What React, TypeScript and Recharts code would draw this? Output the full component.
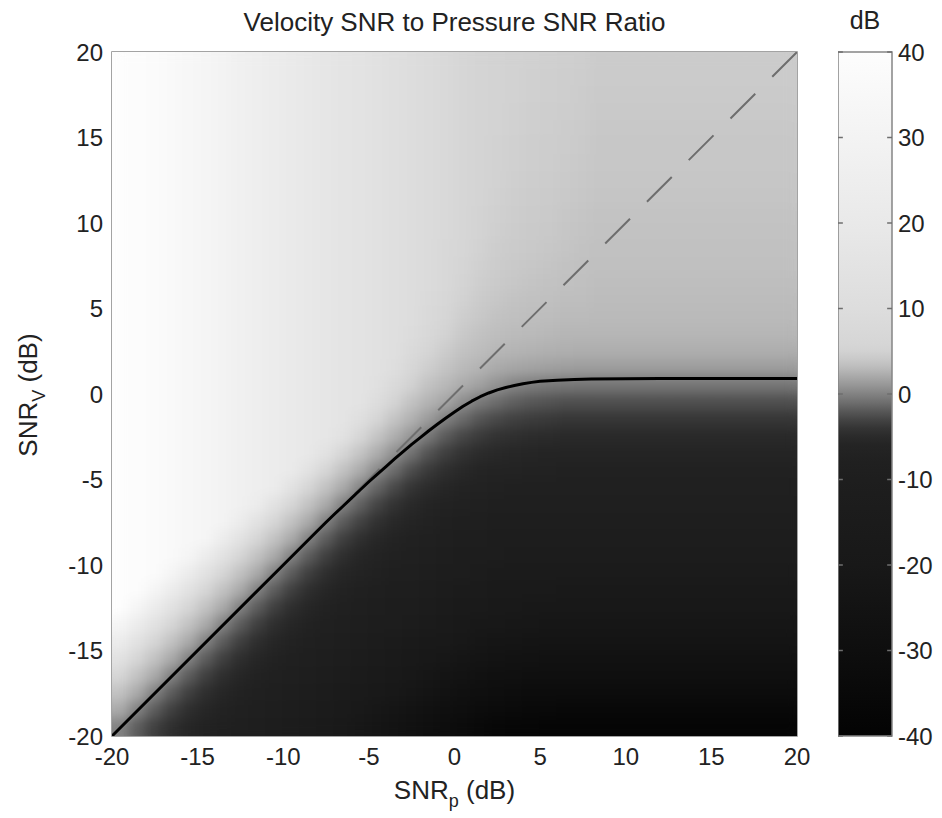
import React from 'react';
import { ComposedChart, Scatter, XAxis, YAxis, ReferenceArea, ReferenceLine } from 'recharts';

// ---- grid of cell centres (dB) ----
const snrPCenters = [-19.5,-18.5,-17.5,-16.5,-15.5,-14.5,-13.5,-12.5,-11.5,-10.5,-9.5,-8.5,-7.5,-6.5,-5.5,-4.5,-3.5,-2.5,-1.5,-0.5,0.5,1.5,2.5,3.5,4.5,5.5,6.5,7.5,8.5,9.5,10.5,11.5,12.5,13.5,14.5,15.5,16.5,17.5,18.5,19.5];
const snrVCenters = [19.5,18.5,17.5,16.5,15.5,14.5,13.5,12.5,11.5,10.5,9.5,8.5,7.5,6.5,5.5,4.5,3.5,2.5,1.5,0.5,-0.5,-1.5,-2.5,-3.5,-4.5,-5.5,-6.5,-7.5,-8.5,-9.5,-10.5,-11.5,-12.5,-13.5,-14.5,-15.5,-16.5,-17.5,-18.5,-19.5];

// ---- ratio values (dB), one row per SNR_V centre, columns follow snrPCenters ----
const row_v19_5 = [40,39,38,36,33.5,31.5,29.5,27,25,23,21,19.5,17.5,16,14.8,13.5,12,10,8.8,7.5,6.2,5.6,5.2,5,4.85,4.75,4.65,4.55,4.3,4.3,4.3,4.3,4.3,4.3,4.3,4.3,4.3,4.3,4.3,4.3];
const row_v18_5 = [40,39,38,36,33.5,31.5,29.5,27,25,23,21,19.5,17.5,16,14.8,13.5,12,10,8.8,7.5,6.2,5.6,5.2,5,4.8,4.7,4.6,4.5,4.25,4.25,4.25,4.25,4.25,4.25,4.25,4.25,4.25,4.25,4.25,4.25];
const row_v17_5 = [40,39,38,36,33.5,31.5,29.5,27,25,23,21,19.5,17.5,16,14.8,13.5,12,10,8.8,7.5,6.2,5.6,5.2,4.95,4.75,4.65,4.55,4.4,4.15,4.15,4.15,4.15,4.15,4.15,4.15,4.15,4.15,4.15,4.15,4.15];
const row_v16_5 = [40,39,38,36,33.5,31.5,29.5,27,25,23,21,19.5,17.5,16,14.8,13.5,12,10,8.8,7.5,6.2,5.6,5.2,4.9,4.7,4.6,4.5,4.35,4.1,4.1,4.1,4.1,4.1,4.1,4.1,4.1,4.1,4.1,4.1,4.1];
const row_v15_5 = [40,39,38,36,33.5,31.5,29.5,27,25,23,21,19.5,17.5,16,14.8,13.5,12,10,8.8,7.5,6.2,5.6,5.15,4.85,4.65,4.55,4.4,4.3,4,4,4,4,4,4,4,4,4,4,4,4];
const row_v14_5 = [40,39,38,36,33.5,31.5,29.5,27,25,23,21,19.5,17.5,16,14.8,13.5,12,10,8.8,7.5,6.2,5.6,5.1,4.8,4.6,4.5,4.35,4.2,3.95,3.95,3.95,3.95,3.95,3.95,3.95,3.95,3.95,3.95,3.95,3.95];
const row_v13_5 = [40,39,38,36,33.5,31.5,29.5,27,25,23,21,19.5,17.5,16,14.8,13.5,12,10,8.8,7.5,6.2,5.6,5.05,4.75,4.55,4.45,4.25,4.1,3.9,3.9,3.9,3.9,3.9,3.9,3.9,3.9,3.9,3.9,3.9,3.9];
const row_v12_5 = [40,39,38,36,33.5,31.5,29.5,27,25,23,21,19.5,17.5,16,14.8,13.5,12,10,8.8,7.5,6.2,5.5,5,4.7,4.5,4.35,4.15,4,3.85,3.85,3.85,3.85,3.85,3.85,3.85,3.85,3.85,3.85,3.85,3.85];
const row_v11_5 = [40,39,38,36,33.5,31.5,29.5,27,25,23,21,19.5,17.5,16,14.8,13.5,12,10,8.8,7.5,6.2,5.4,4.9,4.6,4.4,4.25,4.05,3.9,3.75,3.75,3.75,3.75,3.75,3.75,3.75,3.75,3.75,3.75,3.75,3.75];
const row_v10_5 = [40,39,38,36,33.5,31.5,29.5,27,25,23,21,19.5,17.5,16,14.8,13.5,12,10,8.8,7.5,6.1,5.3,4.8,4.5,4.3,4.15,3.95,3.8,3.65,3.65,3.65,3.65,3.65,3.65,3.65,3.65,3.65,3.65,3.65,3.65];
const row_v9_5 = [40,39,38,36,33.5,31.5,29.5,27,25,23,21,19.5,17.5,16,14.8,13.5,12,10,8.8,7.5,6,5.15,4.65,4.4,4.2,4.05,3.85,3.7,3.6,3.6,3.6,3.6,3.6,3.6,3.6,3.6,3.6,3.6,3.6,3.6];
const row_v8_5 = [40,39,38,36,33.5,31.5,29.5,27,25,23,21,19.5,17.5,16,14.8,13.5,12,10,8.8,7.4,5.9,5,4.5,4.25,4.05,3.9,3.75,3.6,3.5,3.5,3.5,3.5,3.5,3.5,3.5,3.5,3.5,3.5,3.5,3.5];
const row_v7_5 = [40,39,38,36,33.5,31.5,29.5,27,25,23,21,19.5,17.5,16,14.8,13.5,12,10,8.8,7.2,5.7,4.8,4.35,4.1,3.9,3.75,3.6,3.5,3.4,3.4,3.4,3.4,3.4,3.4,3.4,3.4,3.4,3.4,3.4,3.4];
const row_v6_5 = [40,39,38,36,33.5,31.5,29.5,27,25,23,21,19.5,17.5,16,14.8,13.5,12,10,8.7,6.9,5.4,4.6,4.15,3.9,3.7,3.6,3.5,3.4,3.3,3.3,3.3,3.3,3.3,3.3,3.3,3.3,3.3,3.3,3.3,3.3];
const row_v5_5 = [40,39,38,36,33.5,31.5,29.5,27,25,23,21,19.5,17.5,16,14.8,13.5,12,10,8.4,6.5,5,4.3,3.9,3.65,3.5,3.4,3.3,3.25,3.15,3.15,3.15,3.15,3.15,3.15,3.15,3.15,3.15,3.15,3.15,3.15];
const row_v4_5 = [40,39,38,36,33.5,31.5,29.5,27,25,23,21,19.5,17.5,16,14.8,13.5,12,9.8,7.9,5.9,4.6,4,3.6,3.4,3.3,3.2,3.1,3.05,3,3,3,3,3,3,3,3,3,3,3,3];
const row_v3_5 = [40,39,38,36,33.5,31.5,29.5,27,25,23,21,19.5,17.5,16,14.8,13.5,12,9.4,7,5.2,4.1,3.6,3.3,3.1,3,2.9,2.8,2.75,2.75,2.75,2.75,2.75,2.75,2.75,2.75,2.75,2.75,2.75,2.75,2.75];
const row_v2_5 = [40,39,38,36,33.5,31.5,29.5,27,25,23,21,19.5,17.5,16,14.8,13.5,11.6,8.5,5.8,4.4,3.6,3.2,2.85,2.65,2.55,2.45,2.4,2.35,2.35,2.35,2.35,2.35,2.35,2.35,2.35,2.35,2.35,2.35,2.35,2.35];
const row_v1_5 = [40,39,38,36,33.5,31.5,29.5,27,25,23,21,19.5,17.5,16,14.8,13.5,10.5,6.8,4.6,3.7,3,2.6,2.1,1.9,1.7,1.55,1.45,1.4,1.4,1.4,1.4,1.4,1.4,1.4,1.4,1.4,1.4,1.4,1.4,1.4];
const row_v0_5 = [40,39,38,36,33.5,31.5,29.5,27,25,23,21,19.5,17.5,16,14.8,12.8,8,5,3.6,2.9,2.2,1.6,0.8,0.1,-0.25,-0.45,-0.55,-0.6,-0.6,-0.6,-0.6,-0.6,-0.6,-0.6,-0.6,-0.6,-0.6,-0.6,-0.6,-0.6];
const row_vm0_5 = [40,39,38,36,33.5,31.5,29.5,27,25,23,21,19.5,17.5,16,14.8,10,5.5,3.6,2.6,1.9,0.6,-0.4,-1.1,-1.7,-2.05,-2.25,-2.45,-2.45,-2.45,-2.45,-2.45,-2.45,-2.45,-2.45,-2.45,-2.45,-2.45,-2.45,-2.45,-2.45];
const row_vm1_5 = [40,39,38,36,33.5,31.5,29.5,27,25,23,21,19.5,17.5,16,12,6,3.7,2.5,1.3,-0.1,-1.2,-2.2,-2.8,-3.25,-3.5,-3.7,-3.85,-3.85,-3.85,-3.85,-3.85,-3.85,-3.85,-3.85,-3.85,-3.85,-3.85,-3.85,-3.85,-3.85];
const row_vm2_5 = [40,39,38,36,33.5,31.5,29.5,27,25,23,21,19.5,17.5,14,6.3,3.8,2.4,1,-0.5,-1.9,-2.9,-3.65,-4.2,-4.55,-4.8,-4.9,-5.1,-5.1,-5.1,-5.1,-5.1,-5.1,-5.1,-5.1,-5.1,-5.1,-5.1,-5.1,-5.1,-5.1];
const row_vm3_5 = [40,39,38,36,33.5,31.5,29.5,27,25,23,21,19.5,14,6,3.7,2.3,0.7,-0.8,-2.3,-3.4,-4.25,-4.9,-5.35,-5.65,-5.85,-5.95,-6.1,-6.1,-6.1,-6.1,-6.1,-6.1,-6.1,-6.1,-6.1,-6.1,-6.1,-6.1,-6.1,-6.1];
const row_vm4_5 = [40,39,38,36,33.5,31.5,29.5,27,25,23,21,14,6,3.6,2.2,0.4,-1.1,-2.6,-3.7,-4.65,-5.4,-5.95,-6.4,-6.75,-7,-7.1,-7.3,-7.3,-7.3,-7.3,-7.3,-7.3,-7.3,-7.3,-7.3,-7.3,-7.3,-7.3,-7.3,-7.3];
const row_vm5_5 = [40,39,38,36,33.5,31.5,29.5,27,25,23,14,6,3.6,2.1,0.2,-1.4,-2.8,-4,-4.95,-5.75,-6.45,-7.1,-7.6,-7.95,-8.15,-8.3,-8.4,-8.4,-8.4,-8.4,-8.4,-8.4,-8.4,-8.4,-8.4,-8.4,-8.4,-8.4,-8.4,-8.4];
const row_vm6_5 = [40,39,38,36,33.5,31.5,29.5,27,23,14,6,3.6,2.1,0,-1.6,-3,-4.2,-5.2,-6,-6.85,-7.65,-8.25,-8.65,-8.95,-9.15,-9.3,-9.4,-9.4,-9.4,-9.4,-9.4,-9.4,-9.4,-9.4,-9.4,-9.4,-9.4,-9.4,-9.4,-9.4];
const row_vm7_5 = [40,39,38,36,33.5,31.5,29.5,23,14,6,3.6,2.1,0,-1.8,-3.15,-4.35,-5.35,-6.2,-7.15,-8.05,-8.7,-9.25,-9.65,-9.95,-10.2,-10.4,-10.55,-10.55,-10.55,-10.55,-10.55,-10.55,-10.55,-10.55,-10.55,-10.55,-10.55,-10.55,-10.55,-10.55];
const row_vm8_5 = [40,39,38,36,33.5,31.5,23,14,6,3.6,2.1,0,-1.8,-3.3,-4.5,-5.5,-6.4,-7.4,-8.3,-9.05,-9.7,-10.35,-10.9,-11.4,-11.7,-11.9,-12.05,-12.05,-12.05,-12.05,-12.05,-12.05,-12.05,-12.05,-12.05,-12.05,-12.05,-12.05,-12.05,-12.05];
const row_vm9_5 = [40,39,38,36,32,23,14,6,3.6,2.1,0,-1.8,-3.3,-4.6,-5.6,-6.55,-7.6,-8.5,-9.3,-10.1,-11,-11.85,-12.5,-12.9,-13.3,-13.5,-13.8,-13.8,-13.8,-13.8,-13.8,-13.8,-13.8,-13.8,-13.8,-13.8,-13.8,-13.8,-13.8,-13.8];
const row_vm10_5 = [40,39,38,32,23,14,6,3.6,2.1,0,-1.8,-3.3,-4.6,-5.7,-6.7,-7.75,-8.65,-9.5,-10.4,-11.6,-12.5,-13.5,-14.3,-14.9,-15.3,-15.5,-15.8,-15.8,-15.8,-15.8,-15.8,-15.8,-15.8,-15.8,-15.8,-15.8,-15.8,-15.8,-15.8,-15.8];
const row_vm11_5 = [40,39,32,23,14,6,3.6,2.1,0,-1.8,-3.3,-4.6,-5.7,-6.8,-7.9,-8.8,-9.65,-10.7,-11.9,-13.1,-14.4,-15.5,-16.3,-16.9,-17.3,-17.5,-17.8,-17.8,-17.8,-17.8,-17.8,-17.8,-17.8,-17.8,-17.8,-17.8,-17.8,-17.8,-17.8,-17.8];
const row_vm12_5 = [40,32,23,14,6,3.6,2.1,0,-1.8,-3.3,-4.6,-5.7,-6.8,-8,-8.9,-9.8,-10.9,-12.2,-13.6,-15.1,-16.4,-17.5,-18.3,-18.9,-19.3,-19.5,-19.8,-19.8,-19.8,-19.8,-19.8,-19.8,-19.8,-19.8,-19.8,-19.8,-19.8,-19.8,-19.8,-19.8];
const row_vm13_5 = [32,23,14,6,3.6,2.1,0,-1.8,-3.3,-4.6,-5.7,-6.8,-8,-9,-9.9,-11.2,-12.5,-14,-15.6,-17.1,-18.4,-19.5,-20.3,-20.9,-21.4,-21.7,-22,-22,-22,-22,-22,-22,-22,-22,-22,-22,-22,-22,-22,-22];
const row_vm14_5 = [23,14,6,3.6,2.1,0,-1.8,-3.3,-4.6,-5.7,-6.8,-8,-9,-10,-11.3,-12.7,-14.3,-16,-17.6,-19.1,-20.4,-21.6,-22.6,-23.4,-23.9,-24.2,-24.5,-24.5,-24.5,-24.5,-24.5,-24.5,-24.5,-24.5,-24.5,-24.5,-24.5,-24.5,-24.5,-24.5];
const row_vm15_5 = [14,6,3.6,2.1,0,-1.8,-3.3,-4.6,-5.7,-6.8,-8,-9,-10,-11.5,-12.8,-14.6,-16.3,-18,-19.6,-21.1,-22.7,-24.1,-25.1,-25.9,-26.4,-26.7,-27,-27,-27,-27,-27,-27,-27,-27,-27,-27,-27,-27,-27,-27];
const row_vm16_5 = [6,3.6,2.1,0,-1.8,-3.3,-4.6,-5.7,-6.8,-8,-9,-10,-11.5,-13,-14.8,-16.6,-18.3,-20,-21.7,-23.6,-25.2,-26.6,-27.6,-28.4,-28.9,-29.2,-29.5,-29.5,-29.5,-29.5,-29.5,-29.5,-29.5,-29.5,-29.5,-29.5,-29.5,-29.5,-29.5,-29.5];
const row_vm17_5 = [3.6,2.1,0,-1.8,-3.3,-4.6,-5.7,-6.8,-8,-9,-10,-11.5,-13,-15,-16.8,-18.6,-20.3,-22.2,-24.2,-26.1,-27.7,-29.1,-30.1,-30.9,-31.5,-31.8,-32.2,-32.2,-32.2,-32.2,-32.2,-32.2,-32.2,-32.2,-32.2,-32.2,-32.2,-32.2,-32.2,-32.2];
const row_vm18_5 = [2.1,0,-1.8,-3.3,-4.6,-5.7,-6.8,-8,-9,-10,-11.5,-13,-15,-17,-18.8,-20.6,-22.6,-24.7,-26.7,-28.6,-30.2,-31.8,-33,-33.9,-34.5,-34.8,-35.2,-35.2,-35.2,-35.2,-35.2,-35.2,-35.2,-35.2,-35.2,-35.2,-35.2,-35.2,-35.2,-35.2];
const row_vm19_5 = [0,-1.8,-3.3,-4.6,-5.7,-6.8,-8,-9,-10,-11.5,-13,-15,-17,-19,-20.8,-23,-25.1,-27.2,-29.2,-31.1,-33.1,-34.8,-36,-36.9,-37.5,-37.8,-38.2,-38.2,-38.2,-38.2,-38.2,-38.2,-38.2,-38.2,-38.2,-38.2,-38.2,-38.2,-38.2,-38.2];

const ratioRows = [row_v19_5,row_v18_5,row_v17_5,row_v16_5,row_v15_5,row_v14_5,row_v13_5,row_v12_5,row_v11_5,row_v10_5,row_v9_5,row_v8_5,row_v7_5,row_v6_5,row_v5_5,row_v4_5,row_v3_5,row_v2_5,row_v1_5,row_v0_5,row_vm0_5,row_vm1_5,row_vm2_5,row_vm3_5,row_vm4_5,row_vm5_5,row_vm6_5,row_vm7_5,row_vm8_5,row_vm9_5,row_vm10_5,row_vm11_5,row_vm12_5,row_vm13_5,row_vm14_5,row_vm15_5,row_vm16_5,row_vm17_5,row_vm18_5,row_vm19_5];

// ---- 0 dB contour (black curve) ----
const curveSnrP = [-20,-10,-8,-7.5,-7,-6.5,-6,-5.5,-5,-4.5,-4,-3.5,-3,-2.5,-2,-1.5,-1,-0.5,0,0.5,1,1.5,2,2.5,3,3.5,4,4.5,5,6,7,8,10,12,15,20];
const curveSnrV = [-20,-10,-8,-7.5,-7.02,-6.55,-6.07,-5.6,-5.13,-4.68,-4.24,-3.8,-3.37,-2.95,-2.55,-2.15,-1.77,-1.4,-1.05,-0.72,-0.42,-0.16,0.06,0.24,0.38,0.5,0.6,0.68,0.74,0.81,0.85,0.87,0.89,0.9,0.9,0.9];

// ---- equal-SNR reference diagonal ----
const diagSnrP = [20, -20];
const diagSnrV = [20, -20];

// ---- axis ticks ----
const axisTicks = [-20,-15,-10,-5,0,5,10,15,20];
const colorbarTicks = [-40,-30,-20,-10,0,10,20,30,40];

// ---- colour map (dB -> gray level) ----
const cmapDb = [-40,-30,-20,-10,-8,-6,-5,-4,-3,-2,-1,0,1,2,3,4,5,6,10,20,30,40];
const cmapGray = [3,14,24,30,32,36,42,52,68,88,110,130,150,168,186,200,210,214,221,233,243,253];

const FONT = '"Liberation Sans", Arial, Helvetica, sans-serif';
const TEXT = '#222';

// layout
const PLOT_LEFT = 112, PLOT_TOP = 52, PLOT_RIGHT = 797, PLOT_BOTTOM = 736;
const CHART_W = 942, CHART_H = 818;
const Y_AXIS_W = 60, X_AXIS_H = 30;
const CELL_W = (PLOT_RIGHT - PLOT_LEFT) / snrPCenters.length;
const CELL_H = (PLOT_BOTTOM - PLOT_TOP) / snrVCenters.length;

function grayFor(db: number): string {
  const d = Math.max(cmapDb[0], Math.min(cmapDb[cmapDb.length - 1], db));
  let i = 0;
  while (i < cmapDb.length - 2 && d > cmapDb[i + 1]) i++;
  const t = (d - cmapDb[i]) / (cmapDb[i + 1] - cmapDb[i]);
  const g = Math.round(cmapGray[i] + t * (cmapGray[i + 1] - cmapGray[i]));
  return `rgb(${g},${g},${g})`;
}

const heatCells = snrVCenters.flatMap((v, i) => snrPCenters.map((p, j) => ({ p, v, z: ratioRows[i][j] })));
const curveData = curveSnrP.map((p, i) => ({ p, v: curveSnrV[i] }));
const diagData = diagSnrP.map((p, i) => ({ p, v: diagSnrV[i] }));
const colorbarData = colorbarTicks.map((t) => ({ x: 0.5, y: t }));

const HeatCell = (props: any) => {
  const { cx, cy } = props;
  const z = props.payload ? props.payload.z : props.z;
  if (cx == null || cy == null) return <g />;
  return (
    <rect
      x={cx - CELL_W / 2 - 0.4}
      y={cy - CELL_H / 2 - 0.4}
      width={CELL_W + 0.8}
      height={CELL_H + 0.8}
      fill={grayFor(z)}
      stroke="none"
    />
  );
};

const NoPoint = () => <g />;

const tickStyle = { fontSize: 24, fill: TEXT, fontFamily: FONT };

export default function App() {
  return (
    <div style={{ position: 'absolute', left: 0, top: 0, width: CHART_W, height: CHART_H, background: '#fff', fontFamily: FONT }}>
      <style>{`.heatmap-layer { filter: url(#heatSmooth); }`}</style>
      <svg width={0} height={0} style={{ position: 'absolute' }} aria-hidden="true">
        <defs>
          <filter id="heatSmooth" x="0" y="0" width="1" height="1" colorInterpolationFilters="sRGB">
            <feGaussianBlur stdDeviation="6" />
            <feComponentTransfer>
              <feFuncA type="table" tableValues="1 1" />
            </feComponentTransfer>
          </filter>
          <linearGradient id="cbGrad" x1="0" y1="1" x2="0" y2="0">
            {cmapDb.map((d, i) => (
              <stop key={i} offset={(d + 40) / 80} stopColor={`rgb(${cmapGray[i]},${cmapGray[i]},${cmapGray[i]})`} />
            ))}
          </linearGradient>
        </defs>
      </svg>

      <div style={{ position: 'absolute', left: 0, top: 0 }}>
        <ComposedChart
          width={CHART_W}
          height={CHART_H}
          margin={{ top: PLOT_TOP, right: CHART_W - PLOT_RIGHT, bottom: CHART_H - PLOT_BOTTOM - X_AXIS_H, left: PLOT_LEFT - Y_AXIS_W }}
        >
          <XAxis
            type="number"
            dataKey="p"
            domain={[-20, 20]}
            ticks={axisTicks}
            allowDataOverflow
            interval={0}
            height={X_AXIS_H}
            tickSize={0}
            tickMargin={12}
            axisLine={false}
            tickLine={false}
            tick={tickStyle}
          />
          <YAxis
            type="number"
            dataKey="v"
            domain={[-20, 20]}
            ticks={axisTicks}
            allowDataOverflow
            interval={0}
            width={Y_AXIS_W}
            tickSize={0}
            tickMargin={9}
            axisLine={false}
            tickLine={false}
            tick={tickStyle}
          />
          <Scatter data={heatCells} dataKey="v" shape={HeatCell} isAnimationActive={false} className="heatmap-layer" />
          <Scatter
            data={diagData}
            dataKey="v"
            shape={NoPoint}
            line={{ stroke: '#6e6e6e', strokeWidth: 2, strokeDasharray: '35 24' }}
            lineType="joint"
            isAnimationActive={false}
          />
          <Scatter
            data={curveData}
            dataKey="v"
            shape={NoPoint}
            line={{ stroke: '#000', strokeWidth: 3, strokeLinejoin: 'round', strokeLinecap: 'round' }}
            lineType="joint"
            isAnimationActive={false}
          />
          <ReferenceArea x1={-20} x2={20} y1={-20} y2={20} fill="none" fillOpacity={0} stroke="#858585" strokeWidth={1.5} ifOverflow="visible" />
          <text x={(PLOT_LEFT + PLOT_RIGHT) / 2} y={31} textAnchor="middle" fontSize={26} fill={TEXT} fontFamily={FONT}>
            Velocity SNR to Pressure SNR Ratio
          </text>
          <text x={(PLOT_LEFT + PLOT_RIGHT) / 2} y={799} textAnchor="middle" fontSize={26} fill={TEXT} fontFamily={FONT}>
            <tspan>SNR</tspan>
            <tspan dy={8} fontSize={18}>p</tspan>
            <tspan dy={-8}> (dB)</tspan>
          </text>
          <text x={37} y={395} transform="rotate(-90, 37, 395)" textAnchor="middle" fontSize={26} fill={TEXT} fontFamily={FONT}>
            <tspan>SNR</tspan>
            <tspan dy={8} fontSize={18}>V</tspan>
            <tspan dy={-8}> (dB)</tspan>
          </text>
        </ComposedChart>
      </div>

      <div style={{ position: 'absolute', left: 838, top: 0 }}>
        <ComposedChart width={104} height={CHART_H} data={colorbarData} margin={{ top: PLOT_TOP, right: 0, bottom: CHART_H - PLOT_BOTTOM, left: 0 }}>
          <XAxis type="number" dataKey="x" domain={[0, 1]} hide />
          <YAxis
            type="number"
            dataKey="y"
            orientation="right"
            domain={[-40, 40]}
            ticks={colorbarTicks}
            interval={0}
            width={50}
            tickSize={0}
            tickMargin={6}
            axisLine={false}
            tickLine={false}
            tick={tickStyle}
          />
          <ReferenceArea x1={0} x2={1} y1={-40} y2={40} fill="url(#cbGrad)" fillOpacity={1} stroke="#858585" strokeWidth={1.5} />
          {colorbarTicks.map((t) => (
            <ReferenceLine key={`l${t}`} segment={[{ x: 0, y: t }, { x: 0.09, y: t }]} stroke="#6e6e6e" strokeWidth={1.5} />
          ))}
          {colorbarTicks.map((t) => (
            <ReferenceLine key={`r${t}`} segment={[{ x: 0.91, y: t }, { x: 1, y: t }]} stroke="#6e6e6e" strokeWidth={1.5} />
          ))}
          <text x={27} y={29} textAnchor="middle" fontSize={25} fill={TEXT} fontFamily={FONT}>dB</text>
        </ComposedChart>
      </div>
    </div>
  );
}
